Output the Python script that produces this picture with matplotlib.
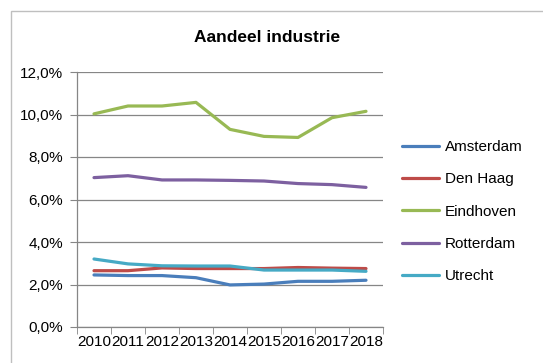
import matplotlib.pyplot as plt
from matplotlib.patches import Rectangle
from matplotlib.ticker import FixedLocator, FuncFormatter

plt.rcParams['font.family'] = ['Liberation Sans', 'DejaVu Sans']

years = ['2010', '2011', '2012', '2013', '2014', '2015', '2016', '2017', '2018']
amsterdam = [2.45, 2.42, 2.42, 2.32, 1.98, 2.02, 2.15, 2.15, 2.20]
den_haag = [2.65, 2.65, 2.78, 2.75, 2.75, 2.75, 2.80, 2.77, 2.75]
eindhoven = [10.03, 10.40, 10.40, 10.57, 9.30, 8.97, 8.92, 9.85, 10.15]
rotterdam = [7.03, 7.12, 6.92, 6.92, 6.90, 6.87, 6.75, 6.70, 6.57]
utrecht = [3.20, 2.97, 2.88, 2.87, 2.87, 2.68, 2.68, 2.68, 2.62]

series = [('Amsterdam', amsterdam, '#4A7EBB'),
          ('Den Haag', den_haag, '#BE4B48'),
          ('Eindhoven', eindhoven, '#98B954'),
          ('Rotterdam', rotterdam, '#7D60A0'),
          ('Utrecht', utrecht, '#46AAC5')]

fig = plt.figure(figsize=(5.43, 3.63), dpi=100)
# chart border (only left and top visible in the crop)
fig.patches.append(Rectangle((11 / 543, -0.1), 1.2, 1 - 11 / 363 + 0.1,
                             transform=fig.transFigure, fill=False,
                             edgecolor='#BFBFBF', linewidth=1))

ax = fig.add_axes([77 / 543, 1 - 327 / 363, (383 - 77) / 543, (327 - 72) / 363])
x = list(range(len(years)))
for name, vals, col in series:
    ax.plot(x, vals, color=col, linewidth=2.3, label=name,
            solid_joinstyle='round', solid_capstyle='round')

ax.set_xlim(-0.5, len(years) - 0.5)
ax.set_ylim(0, 12)
ax.set_yticks([0, 2, 4, 6, 8, 10, 12])
ax.yaxis.set_major_formatter(FuncFormatter(lambda v, p: f'{v:.1f}%'.replace('.', ',')))
ax.set_xticks(x)
ax.set_xticklabels(years)
ax.xaxis.set_minor_locator(FixedLocator([i - 0.5 for i in range(len(years) + 1)]))
ax.tick_params(axis='x', which='major', length=0, pad=6, labelsize=11, colors='#000000')
ax.tick_params(axis='x', which='minor', length=5, color='#868686', direction='out')
ax.tick_params(axis='y', length=5, color='#868686', labelsize=11, pad=5)
ax.grid(axis='y', color='#868686', linewidth=0.9)
ax.set_axisbelow(True)
for s in ['top', 'right']:
    ax.spines[s].set_visible(False)
for s in ['left', 'bottom']:
    ax.spines[s].set_color('#868686')
    ax.spines[s].set_linewidth(0.9)

fig.text(267 / 543, 1 - 38 / 363, 'Aandeel industrie', ha='center', va='center',
         fontsize=12.5, fontweight='bold')

fig.legend(loc='upper left', bbox_to_anchor=(402 / 543, 1 - 140 / 363),
           frameon=False, fontsize=11, handlelength=2.45, handletextpad=0.35,
           labelspacing=1.2, borderaxespad=0, borderpad=0)

fig.savefig('out.png', dpi=100)
